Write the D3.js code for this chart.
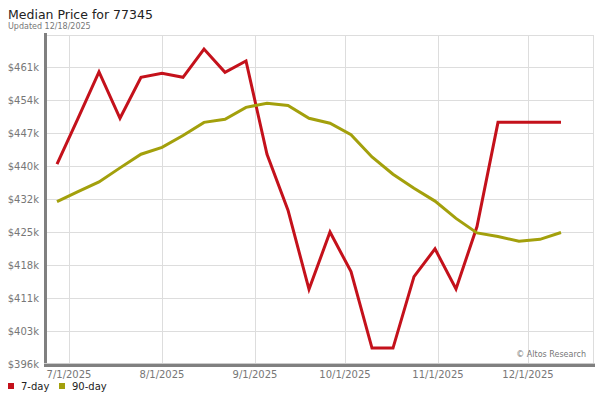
<!DOCTYPE html>
<html>
<head>
<meta charset="utf-8">
<script src="https://cdn.jsdelivr.net/npm/d3@7"></script>
<style>
  html, body { margin: 0; padding: 0; background: #fff; }
  svg { display: block; font-family: "DejaVu Sans", Verdana, sans-serif; }
</style>
</head>
<body>
<svg id="chart" width="600" height="400"></svg>
<script>
const dates = ["2025-06-27","2025-07-04","2025-07-11","2025-07-18","2025-07-25","2025-08-01","2025-08-08","2025-08-15","2025-08-22","2025-08-29","2025-09-05","2025-09-12","2025-09-19","2025-09-26","2025-10-03","2025-10-10","2025-10-17","2025-10-24","2025-10-31","2025-11-07","2025-11-14","2025-11-21","2025-11-28","2025-12-05","2025-12-12"];
const sevenDay = [439900, 450000, 460200, 450000, 459000, 459900, 459000, 465200, 460100, 462600, 442100, 429800, 412400, 425000, 416300, 399500, 399500, 415200, 421300, 412500, 426200, 449100, 449100, 449100, 449100];
const ninetyDay = [431700, 433900, 436000, 439100, 442100, 443600, 446200, 449100, 449800, 452400, 453300, 452800, 450000, 448900, 446400, 441500, 437700, 434600, 431800, 428000, 424800, 424000, 423000, 423400, 424900];
const yTicks = [396000, 403250, 410500, 417750, 425000, 432250, 439500, 446750, 454000, 461250];
const yTickLabels = ["$396k","$403k","$411k","$418k","$425k","$432k","$440k","$447k","$454k","$461k"];
const xTicks = ["2025-07-01","2025-08-01","2025-09-01","2025-10-01","2025-11-01","2025-12-01"];
const xTickLabels = ["7/1/2025","8/1/2025","9/1/2025","10/1/2025","11/1/2025","12/1/2025"];
const seriesNames = ["7-day","90-day"];
const seriesColors = ["#c4111b","#a3a00c"];

const svg = d3.select("#chart");
const parse = d3.utcParse("%Y-%m-%d");
const plot = {left: 46, right: 593, top: 35, bottom: 364};

const x = d3.scaleUtc().domain([parse("2025-07-01"), parse("2025-12-01")]).range([69, 528]);
const y = d3.scaleLinear().domain([396000, 468300]).range([plot.bottom, plot.top]);

// title
svg.append("text").attr("x", 8).attr("y", 19).attr("font-size", 12.5).attr("fill", "#222").text("Median Price for 77345");
svg.append("text").attr("x", 8).attr("y", 29).attr("font-size", 8).attr("fill", "#777").text("Updated 12/18/2025");

// grid
const g = svg.append("g");
g.append("line").attr("x1", plot.left).attr("x2", plot.right).attr("y1", plot.top + 0.5).attr("y2", plot.top + 0.5).attr("stroke", "#ddd");
g.append("line").attr("x1", plot.right + 0.5).attr("x2", plot.right + 0.5).attr("y1", plot.top).attr("y2", plot.bottom).attr("stroke", "#ddd");
g.selectAll(".hg").data(yTicks).join("line")
  .attr("x1", plot.left).attr("x2", plot.right)
  .attr("y1", d => Math.round(y(d)) + 0.5).attr("y2", d => Math.round(y(d)) + 0.5)
  .attr("stroke", "#ddd");
g.selectAll(".vg").data(xTicks).join("line")
  .attr("x1", d => Math.round(x(parse(d))) + 0.5).attr("x2", d => Math.round(x(parse(d))) + 0.5)
  .attr("y1", plot.top).attr("y2", plot.bottom)
  .attr("stroke", "#ddd");

// y labels
svg.selectAll(".yl").data(yTicks).join("text")
  .attr("x", 39).attr("y", d => y(d) + 4)
  .attr("text-anchor", "end").attr("font-size", 10).attr("fill", "#777")
  .text((d, i) => yTickLabels[i]);

// x labels
svg.selectAll(".xl").data(xTicks).join("text")
  .attr("x", d => x(parse(d))).attr("y", 378)
  .attr("text-anchor", "middle").attr("font-size", 10).attr("fill", "#777")
  .text((d, i) => xTickLabels[i]);

// copyright
svg.append("text").attr("x", 586).attr("y", 357).attr("text-anchor", "end")
  .attr("font-size", 8).attr("fill", "#777").text("© Altos Research");

// lines
const line = d3.line().x((d, i) => x(parse(dates[i]))).y(d => y(d));
[sevenDay, ninetyDay].forEach((vals, k) => {
  svg.append("path").datum(vals).attr("d", line)
    .attr("fill", "none").attr("stroke", seriesColors[k]).attr("stroke-width", 3)
    .attr("stroke-linejoin", "miter").attr("stroke-linecap", "butt");
});

// axes (thick gray)
svg.append("line").attr("x1", 45.5).attr("x2", 45.5).attr("y1", 33).attr("y2", 366).attr("stroke", "#808080").attr("stroke-width", 3);
svg.append("line").attr("x1", 44).attr("x2", 595).attr("y1", 363.5).attr("y2", 363.5).attr("stroke", "#ccc").attr("stroke-width", 1);
svg.append("line").attr("x1", 44).attr("x2", 595).attr("y1", 365.5).attr("y2", 365.5).attr("stroke", "#808080").attr("stroke-width", 3);

// legend
const leg = svg.append("g");
const legX = [8, 59];
seriesNames.forEach((n, i) => {
  leg.append("rect").attr("x", legX[i]).attr("y", 383).attr("width", 6).attr("height", 6).attr("fill", seriesColors[i]);
  leg.append("text").attr("x", legX[i] + 13).attr("y", 390).attr("font-size", 10).attr("fill", "#222").text(n);
});
</script>
</body>
</html>
